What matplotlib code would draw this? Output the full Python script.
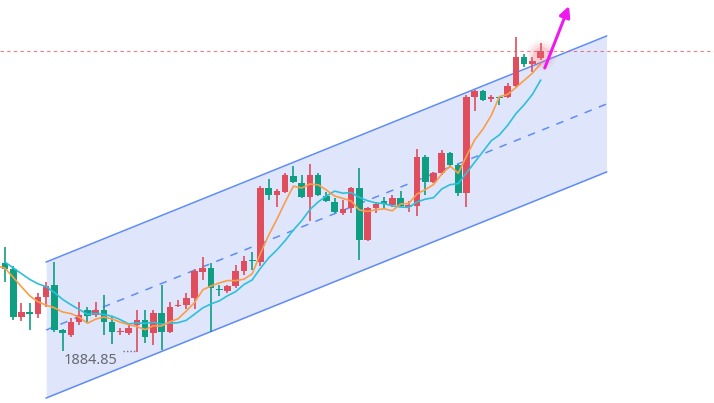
import numpy as np
import pandas as pd
import matplotlib
matplotlib.use("Agg")
import matplotlib.pyplot as plt

# candle data (oldest first); red = up, green = down
opens = [1974, 1968, 1920, 1925, 1923, 1940, 1952, 1907, 1902, 1915,
         1927, 1922, 1927, 1915, 1905, 1904, 1912, 1917, 1904, 1924,
         1905, 1931, 1932, 1939, 1965, 1969, 1948, 1946, 1951, 1966,
         1977, 1975, 2049, 2042, 2045, 2061, 2054, 2040, 2062, 2041,
         2035, 2024, 2029, 2049, 1997, 2029, 2036, 2032, 2039, 2030,
         2031, 2080, 2055, 2064, 2084, 2072, 2044, 2140, 2146, 2138,
         2140, 2140, 2151, 2180, 2173, 2179]
closes = [1968, 1920, 1925, 1923, 1940, 1951, 1907, 1904, 1915, 1922,
          1921, 1927, 1915, 1905, 1906, 1909, 1917, 1900, 1924, 1905,
          1930, 1932, 1939, 1966, 1969, 1949, 1947, 1951, 1966, 1976,
          1976, 2049, 2042, 2046, 2062, 2055, 2040, 2062, 2042, 2036,
          2025, 2028, 2049, 1997, 2029, 2033, 2033, 2039, 2031, 2032,
          2080, 2055, 2064, 2084, 2072, 2044, 2140, 2146, 2137, 2140,
          2139, 2151, 2180, 2173, 2176, 2186]
highs = [1990, 1971, 1934, 1934, 1944, 1955, 1975, 1908, 1919, 1935,
         1930, 1935, 1942, 1920, 1909, 1912, 1927, 1927, 1927, 1952,
         1935, 1937, 1944, 1968, 1980, 1974, 1952, 1952, 1972, 1981,
         1985, 2051, 2058, 2048, 2064, 2071, 2062, 2073, 2064, 2045,
         2039, 2037, 2050, 2069, 2030, 2035, 2040, 2042, 2046, 2036,
         2088, 2082, 2065, 2087, 2085, 2073, 2142, 2147, 2147, 2142,
         2140, 2154, 2200, 2183, 2180, 2194]
lows = [1955, 1917, 1916, 1907, 1919, 1930, 1905, 1886, 1900, 1912,
        1915, 1920, 1902, 1893, 1902, 1902, 1884.85, 1894, 1892, 1887,
        1904, 1930, 1928, 1928, 1957, 1905, 1941, 1944, 1949, 1962,
        1967, 1971, 2037, 2030, 2044, 2054, 2039, 2016, 2041, 2035,
        2024, 2022, 2024, 1977, 1996, 2024, 2029, 2030, 2030, 2025,
        2021, 2042, 2054, 2062, 2071, 2041, 2030, 2126, 2136, 2135,
        2132, 2139, 2150, 2170, 2165, 2177]
# closes before the visible window, only used to warm up the moving averages
prev_closes = [1978, 1983, 1980, 1984, 1980, 1966, 1972, 1968, 1970]

last_price = 2186
low_label = "1884.85"
low_value = 1884.85
low_index = 16

# parallel channel (candle index, price)
chan_x = [5, 73]
chan_upper = [1975, 2201]
chan_width = 136

# trend arrow
arrow_from = (65.5, 2169)
arrow_to = (68.45, 2231)

RED = "#e04d5c"
GREEN = "#0e9f82"
BLUE = "#5f8cf6"
FILL = "#dfe6fb"
ORANGE = "#fb9d48"
CYAN = "#2fbfda"

fig = plt.figure(figsize=(7.14, 4.03), dpi=100)
ax = fig.add_axes([0, 0, 1, 1])
ax.axis("off")
ax.set_xlim(-0.607, 86.04)
ax.set_ylim(1834, 2237)

# channel
cx = np.array(chan_x, dtype=float)
up = np.array(chan_upper, dtype=float)
lo = up - chan_width
mid = up - chan_width / 2
ax.fill_between(cx, lo, up, color=FILL, zorder=0, lw=0)
ax.plot(cx, up, color=BLUE, lw=1.1, zorder=1)
ax.plot(cx, lo, color=BLUE, lw=1.1, zorder=1)
ax.plot(cx, mid, color=BLUE, lw=1.1, ls=(0, (5, 5)), zorder=1)

# last price line
ax.axhline(last_price, color="#e8505e", alpha=0.75, lw=0.8, ls=(0, (3, 3)), zorder=1)

# candles
o = np.array(opens, dtype=float)
c = np.array(closes, dtype=float)
h = np.array(highs, dtype=float)
l = np.array(lows, dtype=float)
idx = np.arange(len(o))
colors = np.where(c >= o, RED, GREEN)
ax.vlines(idx, l, h, colors=colors, lw=1.2, zorder=2)
body = np.maximum(np.abs(c - o), 1.2)
ax.bar(idx, body, bottom=np.minimum(o, c), width=0.8, color=colors, lw=0, zorder=3)

# moving averages
allc = pd.Series(prev_closes + closes)
all_idx = np.arange(-len(prev_closes), len(closes))
ma5 = allc.rolling(5).mean()
ma10 = allc.rolling(10).mean()
ax.plot(all_idx, ma10, color=CYAN, lw=1.2, zorder=4)
ax.plot(all_idx, ma5, color=ORANGE, lw=1.2, zorder=4)

# glow on the last candle
for s, a in [(480, 0.08), (300, 0.12), (160, 0.18)]:
    ax.scatter([idx[-1]], [(o[-1] + c[-1]) / 2], s=s, color="#ee6f7d", alpha=a, lw=0, zorder=5)

# lowest price label
ax.text(low_index - 2.3, low_value - 0.5, low_label, ha="right", va="top",
        fontsize=10.5, color="#676b73", family="Noto Sans", zorder=6)
ax.plot([low_index - 1.7, low_index - 0.2], [low_value + 1.5, low_value + 1.5],
        color="#6f737b", lw=1.0, ls=(0, (1, 1.5)), zorder=6)

# arrow
ax.annotate("", xy=arrow_to, xytext=arrow_from,
            arrowprops=dict(arrowstyle="-|>", color="#ee1aee", lw=2.2,
                            mutation_scale=16, shrinkA=0, shrinkB=0), zorder=7)

plt.savefig("out.png", dpi=100)
